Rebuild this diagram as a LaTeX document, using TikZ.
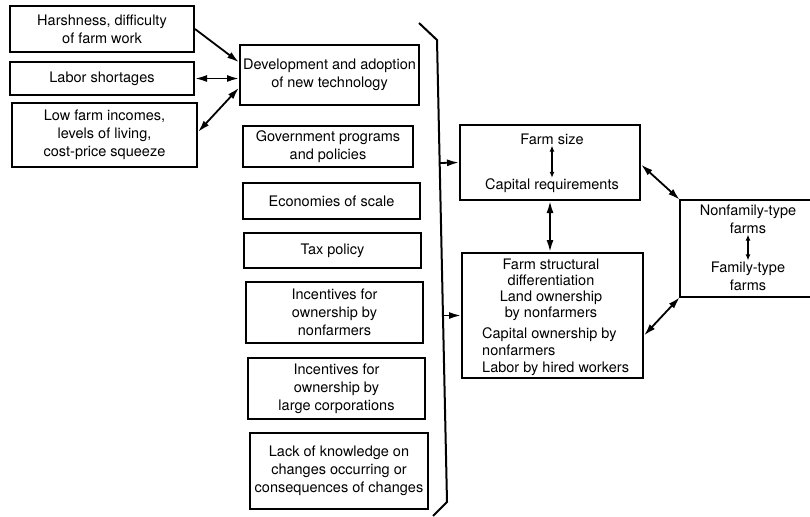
\documentclass[tikz,border=0pt]{standalone}
\usepackage{fontspec}
\setmainfont{TeX Gyre Heros}
\usepackage{tikz}
\usetikzlibrary{arrows.meta,positioning,calc}

\begin{document}
\begin{tikzpicture}[x=1pt,y=-1pt,font=\fontsize{14.5}{18}\selectfont]
  \tikzstyle{factorbox}=[rectangle,draw,line width=2pt,align=center,inner sep=2pt]
  \tikzstyle{plaintext}=[align=center,inner sep=1pt]
  \tikzstyle{arr}=[line width=1.8pt,-{Latex[length=12pt,width=7pt]}]
  \tikzstyle{dblarr}=[line width=1.8pt,{Latex[length=12pt,width=7pt]}-{Latex[length=12pt,width=7pt]}]
  \tikzstyle{tinyarr}=[line width=1.8pt,{Latex[length=6pt,width=5pt]}-{Latex[length=6pt,width=5pt]}]

  \useasboundingbox (0,0) rectangle (810,516);

  \node[factorbox,minimum width=184pt,minimum height=46pt] (harsh) at (102,29) {Harshness, difficulty\\of farm work};
  \node[factorbox,minimum width=184pt,minimum height=33pt] (laborshort) at (102,78.5) {Labor shortages};
  \node[factorbox,minimum width=185pt,minimum height=64pt] (lowinc) at (104.5,135) {Low farm incomes,\\levels of living,\\cost-price squeeze};

  \node[factorbox,inner xsep=0pt,minimum width=179pt,minimum height=60pt] (devtech) at (329.5,75) {Development and adoption\\of new technology};
  \node[factorbox,minimum width=170pt,minimum height=41pt] (govprog) at (328,146.5) {Government programs\\and policies};
  \node[factorbox,minimum width=177pt,minimum height=36pt] (econ) at (331.5,201) {Economies of scale};
  \node[factorbox,minimum width=177pt,minimum height=35pt] (taxpol) at (332.5,250.5) {Tax policy};
  \node[factorbox,minimum width=177pt,minimum height=61pt] (incnon) at (334.5,312.5) {Incentives for\\ownership by\\nonfarmers};
  \node[factorbox,minimum width=177pt,minimum height=61pt] (inccorp) at (336.5,388.5) {Incentives for\\ownership by\\large corporations};
  \node[factorbox,inner xsep=0pt,minimum width=178pt,minimum height=76pt] (lackknow) at (339,471) {Lack of knowledge on\\changes occurring or\\consequences of changes};

  \draw[line width=2pt] (419,23) coordinate (brtop) -- (437,40) -- (447,502) -- (433,516) coordinate (brbot);
  \coordinate (tapA) at (440,163);
  \coordinate (tapB) at (443,318);

  \node[factorbox,minimum width=180pt,minimum height=75pt] (fsbox) at (550,162.5) {};
  \node[plaintext] (fsize) at (552,139) {Farm size};
  \node[plaintext] (capreq) at (552,186) {Capital requirements};

  \node[factorbox,minimum width=181pt,minimum height=125pt] (stbox) at (552.5,315.5) {};
  \node[plaintext,font=\fontsize{14.5}{16}\selectfont] (structdiff) at (551,290) {Farm structural\\differentiation\\Land ownership\\by nonfarmers};
  \node[plaintext,align=left,anchor=west,font=\fontsize{14.5}{17}\selectfont] (capown) at (481,351.5) {Capital ownership by\\nonfarmers\\Labor by hired workers};

  \node[minimum width=130pt,minimum height=97pt] (nonfam) at (745,248.5) {};
  \draw[line width=2pt] (nonfam.north east) -- (nonfam.north west) -- (nonfam.south west) -- (nonfam.south east);
  \node[plaintext] (nonfamtype) at (748,219) {Nonfamily-type\\farms};
  \node[plaintext] (famtype) at (748,276) {Family-type\\farms};

  \draw[arr] (harsh.east) -- (devtech.172);
  \draw[dblarr] (laborshort.east) -- (laborshort.east -| devtech.west);
  \draw[dblarr] ([yshift=3pt]lowinc.east) -- (devtech.188);
  \draw[arr] (tapA) -- (fsbox.west);
  \draw[arr] (stbox.west -| tapB) -- (stbox.west);
  \draw[dblarr] (fsbox.south) -- (fsbox.south |- stbox.north);
  \draw[dblarr] ($(fsbox.east)+(0,2)$) -- (nonfam.north west);
  \draw[dblarr] ($(stbox.east)+(0,20)$) -- (nonfam.south west);
  \draw[tinyarr] (fsize) -- (capreq);
  \draw[tinyarr] (nonfamtype) -- (famtype);
\end{tikzpicture}
\end{document}
